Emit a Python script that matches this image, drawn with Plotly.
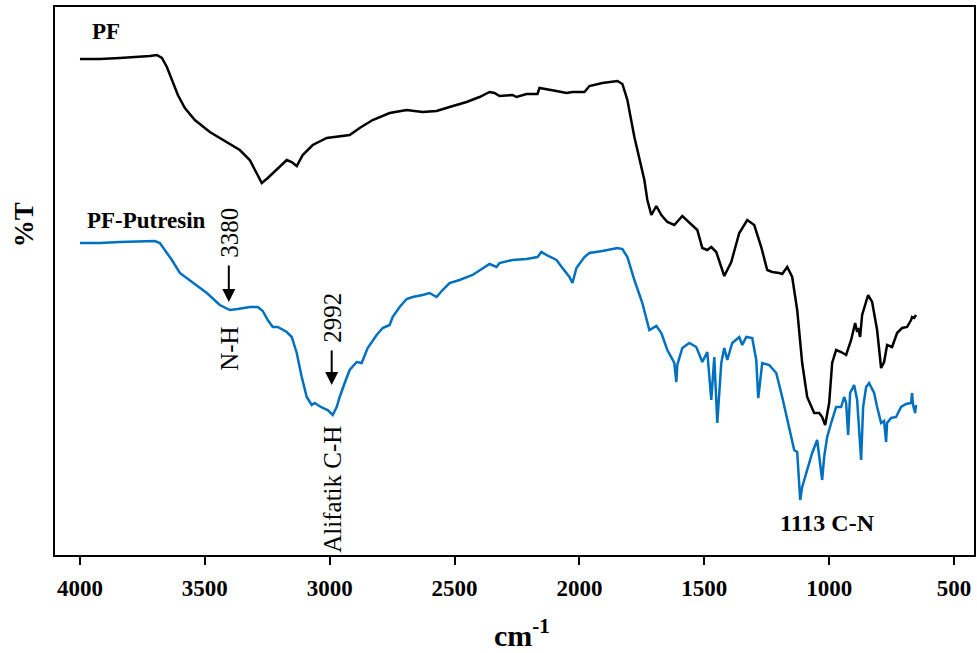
import plotly.graph_objects as go

# PF (black) spectrum: wavenumber (cm-1) and relative %T
pf_wn = [4000, 3920, 3840, 3760, 3720, 3692, 3672, 3652, 3632, 3608, 3580, 3540, 3480, 3420, 3360,
         3320, 3296, 3272, 3248, 3220, 3192, 3172, 3152, 3132, 3108, 3068, 3012, 2960, 2920, 2880,
         2828, 2760, 2692, 2628, 2572, 2520, 2452, 2400, 2360, 2340, 2320, 2268, 2252, 2212, 2168,
         2160, 2132, 2092, 2052, 2028, 1980, 1960, 1908, 1848, 1828, 1808, 1780, 1760, 1740, 1728,
         1712, 1692, 1672, 1648, 1620, 1588, 1552, 1528, 1508, 1488, 1472, 1452, 1420, 1392, 1360,
         1328, 1300, 1272, 1248, 1228, 1200, 1188, 1168, 1148, 1128, 1108, 1088, 1060, 1040, 1028,
         1016, 1000, 988, 972, 952, 932, 912, 896, 888, 884, 876, 868, 844, 828, 808,
         792, 780, 768, 748, 728, 708, 688, 672, 668, 660, 652]
pf_t = [99.2, 99.2, 99.4, 99.6, 99.8, 100.0, 99.4, 97.6, 95.0, 92.0, 89.4, 87.0, 84.6, 82.8, 81.0,
        79.0, 76.6, 74.4, 75.4, 76.8, 78.0, 79.0, 78.6, 77.8, 80.0, 82.0, 83.4, 83.8, 84.0, 85.4,
        87.0, 88.4, 89.0, 88.6, 88.8, 89.6, 90.6, 91.6, 92.6, 92.4, 91.8, 92.0, 91.6, 92.2, 92.2,
        93.4, 93.2, 92.8, 92.4, 92.6, 92.6, 93.8, 94.4, 94.8, 94.2, 91.0, 83.6, 79.0, 75.0, 71.0,
        68.0, 69.8, 68.0, 66.6, 66.0, 67.8, 66.0, 65.0, 61.4, 61.0, 61.6, 60.6, 55.8, 58.6, 64.4,
        67.0, 66.0, 61.6, 57.0, 56.6, 56.4, 56.2, 57.6, 55.6, 49.0, 38.4, 31.6, 28.4, 28.4, 27.6,
        26.0, 30.4, 38.4, 41.0, 40.6, 40.0, 43.0, 46.4, 44.6, 45.4, 43.6, 48.0, 52.0, 50.6, 45.0,
        37.4, 38.6, 42.0, 41.6, 44.4, 45.4, 45.6, 47.0, 47.6, 47.4, 48.0]

# PF-Putresin (blue) spectrum
pfp_wn = [4000, 3920, 3840, 3760, 3700, 3680, 3660, 3632, 3600, 3548, 3492, 3440, 3400, 3368, 3320,
          3288, 3268, 3248, 3228, 3208, 3172, 3152, 3132, 3112, 3092, 3072, 3060, 3048, 3028, 3008,
          2988, 2972, 2960, 2940, 2920, 2892, 2872, 2848, 2812, 2788, 2760, 2748, 2720, 2692, 2668,
          2628, 2600, 2572, 2548, 2520, 2480, 2428, 2388, 2360, 2332, 2320, 2268, 2212, 2168, 2152,
          2132, 2092, 2068, 2040, 2028, 2012, 1980, 1960, 1908, 1848, 1828, 1808, 1780, 1748, 1720,
          1692, 1672, 1648, 1620, 1612, 1608, 1588, 1560, 1532, 1508, 1488, 1472, 1460, 1448, 1432,
          1420, 1408, 1388, 1360, 1348, 1332, 1308, 1292, 1284, 1268, 1240, 1212, 1188, 1168, 1140,
          1128, 1116, 1108, 1088, 1068, 1048, 1036, 1028, 1020, 1008, 992, 972, 952, 940, 932,
          924, 916, 900, 888, 880, 872, 864, 852, 840, 820, 808, 792, 780, 772, 768,
          752, 732, 712, 692, 672, 668, 664, 656, 652]
pfp_t = [62.4, 62.4, 62.6, 62.8, 62.8, 62.4, 61.0, 59.0, 56.4, 54.4, 52.4, 50.0, 49.0, 49.2, 49.6,
         49.6, 48.8, 47.0, 45.6, 45.6, 44.6, 43.6, 40.4, 35.6, 31.6, 30.0, 30.4, 30.0, 29.4, 29.0,
         28.0, 29.6, 31.6, 34.4, 37.0, 38.6, 38.4, 41.4, 44.0, 45.4, 46.0, 47.6, 49.6, 51.2, 51.6,
         52.0, 52.4, 51.6, 53.0, 54.4, 55.0, 56.0, 57.4, 58.2, 57.6, 58.4, 59.0, 59.2, 59.6, 60.6,
         60.0, 59.0, 57.4, 55.6, 54.4, 57.4, 59.6, 60.4, 60.8, 61.4, 61.2, 59.6, 55.0, 50.4, 45.0,
         45.8, 44.4, 41.0, 38.4, 34.6, 38.0, 41.4, 42.4, 41.6, 38.6, 40.6, 31.0, 39.6, 26.4, 38.4,
         41.4, 39.0, 42.4, 43.6, 42.0, 43.6, 43.4, 39.0, 31.4, 38.4, 38.0, 36.4, 31.6, 27.0, 21.0,
         20.6, 11.0, 13.6, 17.0, 20.4, 23.0, 18.4, 15.0, 19.6, 23.6, 26.4, 29.6, 29.6, 31.6, 30.4,
         24.0, 32.4, 34.0, 31.0, 23.6, 19.0, 29.6, 33.6, 34.4, 32.4, 29.6, 26.4, 26.8, 22.6, 26.4,
         27.4, 27.6, 29.6, 30.2, 30.4, 32.4, 30.0, 28.4, 30.0]

x_ticks = [4000, 3500, 3000, 2500, 2000, 1500, 1000, 500]

FONT = "Liberation Serif"

fig = go.Figure()
fig.add_trace(go.Scatter(x=pf_wn, y=pf_t, mode="lines", name="PF",
                         line=dict(color="#000000", width=2.5)))
fig.add_trace(go.Scatter(x=pfp_wn, y=pfp_t, mode="lines", name="PF-Putresin",
                         line=dict(color="#0070C0", width=2.5)))

lbl_reg = dict(family=FONT, size=25, color="black")
lbl_bold = dict(family=FONT, size=23, color="black", weight="bold")

annotations = [
    dict(x=3960, y=104.8, text="PF", showarrow=False, xanchor="left", yanchor="middle", font=lbl_bold),
    dict(x=3980, y=67.0, text="PF-Putresin", showarrow=False, xanchor="left", yanchor="middle", font=lbl_bold),
    # peak labels with arrows (text sits at the arrow tail)
    dict(x=3404, y=50.6, ax=3404, ay=64.4, axref="x", ayref="y", text="3380", textangle=-90,
         showarrow=True, arrowhead=2, arrowsize=1.3, arrowwidth=2, arrowcolor="black",
         borderpad=7, font=lbl_reg),
    dict(x=2992, y=34.0, ax=2992, ay=47.4, axref="x", ayref="y", text="2992", textangle=-90,
         showarrow=True, arrowhead=2, arrowsize=1.3, arrowwidth=2, arrowcolor="black",
         borderpad=7, font=lbl_reg),
    dict(x=3404, y=41.2, text="N-H", showarrow=False, textangle=-90, font=lbl_reg),
    dict(x=2992, y=13.2, text="Alifatik C-H", showarrow=False, textangle=-90, font=lbl_reg),
    dict(x=1008, y=6.4, text="1113 C-N", showarrow=False,
         font=dict(family=FONT, size=24, color="black", weight="bold")),
    # axis titles
    dict(xref="paper", yref="paper", x=-0.0337, y=0.602, xanchor="center", yanchor="middle",
         text="%T", textangle=-90, showarrow=False,
         font=dict(family=FONT, size=27, color="black", weight="bold")),
    dict(xref="paper", yref="paper", x=0.508, y=-0.142, xanchor="center", yanchor="middle",
         text="cm<sup>-1</sup>", showarrow=False,
         font=dict(family=FONT, size=30, color="black", weight="bold")),
]

fig.update_layout(
    width=977, height=653,
    margin=dict(l=55, r=3, t=7, b=98),
    paper_bgcolor="white", plot_bgcolor="white",
    showlegend=False,
    annotations=annotations,
    xaxis=dict(range=[4100, 420], tickvals=x_ticks, ticktext=[str(v) for v in x_ticks],
               showgrid=False, zeroline=False, showline=True, mirror=True, linecolor="black",
               linewidth=2, ticks="outside", ticklen=8, tickwidth=2, tickcolor="black",
               ticklabelstandoff=3, automargin=False,
               tickfont=dict(family=FONT, size=23, color="black", weight="bold")),
    yaxis=dict(range=[0, 109.6], showticklabels=False, ticks="", showgrid=False, zeroline=False,
               showline=True, mirror=True, linecolor="black", linewidth=2, automargin=False),
)

fig.write_html("out.html", config={"displayModeBar": False},
               post_script="document.body.style.margin='0px';")
